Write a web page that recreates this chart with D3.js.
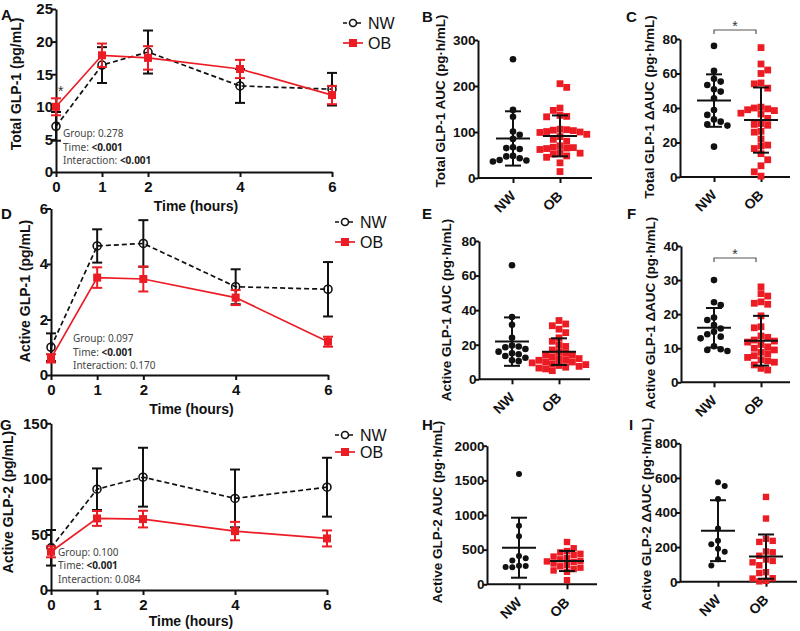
<!DOCTYPE html>
<html><head><meta charset="utf-8">
<script src="https://cdn.jsdelivr.net/npm/d3@7"></script>
<style>body{margin:0;background:#fff}</style>
</head><body><svg id="c" width="800" height="631"></svg>
<script>
// ---------- DATA ----------
const times = [0, 1, 2, 4, 6];
const groups = ["NW", "OB"];
const timeTitle = "Time (hours)";

// Panel A: Total GLP-1 (mean, SEM)
const aNW = [7.0, 16.4, 18.4, 13.2, 12.7];
const aNWerr = [2.2, 2.75, 3.3, 2.6, 2.5];
const aOB = [10.0, 17.9, 17.5, 15.8, 11.8];
const aOBerr = [1.3, 1.8, 1.8, 1.4, 1.4];
const aTicks = [0, 5, 10, 15, 20, 25];
const aStats = [["Group: ", "0.278", false], ["Time: ", "<0.001", true], ["Interaction: ", "<0.001", true]];

// Panel D: Active GLP-1
const dNW = [1.0, 4.65, 4.74, 3.18, 3.09];
const dNWerr = [0.5, 0.6, 0.84, 0.63, 0.98];
const dOB = [0.6, 3.51, 3.46, 2.79, 1.2];
const dOBerr = [0.15, 0.37, 0.45, 0.27, 0.18];
const dTicks = [0, 2, 4, 6];
const dStats = [["Group: ", "0.097", false], ["Time: ", "<0.001", true], ["Interaction: ", "0.170", false]];

// Panel G: Active GLP-2
const gNW = [38, 90.7, 101.5, 82.4, 92.5];
const gNWerr = [16, 18.7, 26.5, 26, 26.5];
const gOB = [34.4, 64.4, 63.8, 53, 46.4];
const gOBerr = [5, 6.7, 7.5, 8.3, 7.2];
const gTicks = [0, 50, 100, 150];
const gStats = [["Group: ", "0.100", false], ["Time: ", "<0.001", true], ["Interaction: ", "0.084", false]];

// Panel B: Total GLP-1 AUC
const bNW = [258, 148, 133, 101, 94, 85, 67, 65, 63, 48, 47, 43, 39, 38, 36];
const bOB = [205, 197, 152, 147, 136, 134, 133, 106, 105, 104, 103, 101, 100, 99, 95, 90, 84, 80, 70, 67, 66, 65, 64, 62, 55, 54, 52, 48, 45, 33, 14];
const bMean = [86, 91.5];
const bSD = [59, 44.5];
const bTicks = [0, 100, 200, 300];

// Panel C: Total GLP-1 ΔAUC
const cNW = [76, 61.5, 57, 55.3, 53.3, 50.8, 49.5, 45.6, 38.8, 36, 33.4, 32.1, 30.5, 29.8, 17.6];
const cOB = [75, 65.5, 62, 60, 54.5, 54, 51.5, 40.5, 40, 39.5, 39, 38.5, 37, 36.5, 34, 31, 30.5, 30, 26.5, 26, 22, 18.5, 18, 16.5, 13.5, 10, 6.5, 3, 0.5];
const cMean = [44.3, 33];
const cSD = [15.2, 18.9];
const cTicks = [0, 20, 40, 60, 80];

// Panel E: Active GLP-1 AUC
const eNW = [66, 36, 31.5, 24, 19.5, 19, 18.5, 17.5, 16, 15, 14.5, 13.5, 12.5, 11, 10.5];
const eOB = [34, 32, 31, 29, 27, 24, 22, 20, 19, 17, 16, 15, 14, 14, 13, 12, 12, 11, 11, 10, 10, 9.5, 9, 8.5, 8, 7.5, 7, 6.5, 6, 5];
const eMean = [21.8, 16];
const eSD = [14, 7.7];
const eTicks = [0, 20, 40, 60, 80];

// Panel F: Active GLP-1 ΔAUC
const fNW = [30, 23.5, 22.7, 19, 18.3, 16.8, 15.8, 14.8, 14.1, 13.4, 12.9, 10.6, 9.7, 9.5, 9.2];
const fOB = [28, 26, 25.3, 23.6, 23.2, 22.9, 19.5, 16.3, 16, 13.6, 13.2, 12.4, 12.1, 11.8, 11.1, 10.4, 10, 9.5, 8.8, 8.4, 7.8, 7.3, 6.6, 6.3, 5.9, 5.1, 4.1, 3.6];
const fMean = [16, 12.2];
const fSD = [5.8, 7.3];
const fTicks = [0, 10, 20, 30, 40];

// Panel H: Active GLP-2 AUC
const hNW = [1590, 845, 695, 410, 375, 345, 268, 265, 250, 245];
const hOB = [610, 520, 480, 460, 440, 420, 400, 380, 360, 340, 330, 320, 300, 280, 260, 240, 220, 200, 180, 60];
const hMean = [528, 336];
const hSD = [433, 145];
const hTicks = [0, 500, 1000, 1500, 2000];

// Panel I: Active GLP-2 ΔAUC
const iNW = [575, 553, 478, 308, 236, 216, 190, 173, 130, 93];
const iOB = [490, 365, 248, 236, 230, 175, 170, 150, 128, 120, 112, 95, 55, 50, 20, 18, 5, 2];
const iMean = [295, 145];
const iSD = [176, 128];
const iTicks = [0, 200, 400, 600, 800];

// ---------- DRAWING ----------
const RED = "#ec1c24", BLK = "#111";
const FONT = "'Liberation Sans', Arial, sans-serif";
const svg = d3.select("#c");
const fmt = d3.format("d");

function styleAxis(g, fs) {
  g.attr("font-family", FONT).attr("font-size", fs).attr("font-weight", "bold");
  g.selectAll("path.domain").attr("stroke", BLK).attr("stroke-width", 2);
  g.selectAll(".tick line").attr("stroke", BLK).attr("stroke-width", 2);
  g.selectAll(".tick text").attr("fill", BLK);
}

function panelLabel(t, x, y) {
  svg.append("text").attr("x", x).attr("y", y).text(t)
    .attr("font-family", FONT).attr("font-weight", "bold").attr("font-size", 15).attr("fill", BLK);
}

function yTitle(t, x, y, fs) {
  svg.append("text").attr("transform", `translate(${x},${y}) rotate(-90)`)
    .attr("text-anchor", "middle").text(t)
    .attr("font-family", FONT).attr("font-weight", "bold").attr("font-size", fs).attr("fill", BLK);
}

function linePanel(c) {
  const x = d3.scaleLinear().domain([0, 6]).range([c.x0, c.x1]);
  const y = d3.scaleLinear().domain([0, c.ymax]).range([c.y0, c.y1]);
  const gx = svg.append("g").attr("transform", `translate(0,${c.y0})`)
    .call(d3.axisBottom(x).tickValues(times).tickFormat(fmt).tickSize(5).tickPadding(4).tickSizeOuter(0));
  styleAxis(gx, 15);
  const gy = svg.append("g").attr("transform", `translate(${c.x0},0)`)
    .call(d3.axisLeft(y).tickValues(c.ticks).tickFormat(fmt).tickSize(4).tickPadding(-1).tickSizeOuter(0));
  styleAxis(gy, 15);

  svg.append("text").attr("x", (c.x0 + c.x1) / 2 + 2).attr("y", c.xtY).attr("text-anchor", "middle")
    .text(timeTitle).attr("font-family", FONT).attr("font-weight", "bold").attr("font-size", 14).attr("fill", BLK);
  yTitle(c.ytitle, c.ytx, c.yty, 14);
  panelLabel(c.label, c.lx, c.ly);

  const series = [
    { m: c.nw, e: c.nwe, col: BLK, dash: "5,3", shape: "circle" },
    { m: c.ob, e: c.obe, col: RED, dash: null, shape: "square" }
  ];
  series.forEach(s => {
    const g = svg.append("g");
    const pts = times.map((t, i) => ({ t, m: s.m[i], e: s.e[i] }));
    pts.forEach(p => {
      g.append("line").attr("x1", x(p.t)).attr("x2", x(p.t)).attr("y1", y(p.m - p.e)).attr("y2", y(p.m + p.e))
        .attr("stroke", s.col).attr("stroke-width", 2);
      [p.m - p.e, p.m + p.e].forEach(v => g.append("line").attr("x1", x(p.t) - 5).attr("x2", x(p.t) + 5)
        .attr("y1", y(v)).attr("y2", y(v)).attr("stroke", s.col).attr("stroke-width", 2));
    });
    g.append("path").datum(pts).attr("d", d3.line().x(d => x(d.t)).y(d => y(d.m)))
      .attr("fill", "none").attr("stroke", s.col).attr("stroke-width", 1.7)
      .attr("stroke-dasharray", s.dash);
    pts.forEach(p => {
      if (s.shape === "circle") g.append("circle").attr("cx", x(p.t)).attr("cy", y(p.m)).attr("r", 4)
        .attr("fill", "none").attr("stroke", BLK).attr("stroke-width", 1.6);
      else g.append("rect").attr("x", x(p.t) - 4).attr("y", y(p.m) - 4).attr("width", 8).attr("height", 8).attr("fill", RED);
    });
  });

  const lg = svg.append("g");
  [["NW", 0], ["OB", 1]].forEach(([name, i]) => {
    const ly = c.legY + i * c.legGap;
    lg.append("line").attr("x1", c.legX).attr("x2", c.legX + 20).attr("y1", ly).attr("y2", ly)
      .attr("stroke", i ? RED : BLK).attr("stroke-width", 1.7).attr("stroke-dasharray", i ? null : "4,3");
    if (i) lg.append("rect").attr("x", c.legX + 6).attr("y", ly - 4).attr("width", 8).attr("height", 8).attr("fill", RED);
    else lg.append("circle").attr("cx", c.legX + 10).attr("cy", ly).attr("r", 3.5).attr("fill", "#fff").attr("stroke", BLK).attr("stroke-width", 1.6);
    lg.append("text").attr("x", c.legX + 25).attr("y", ly + 6).text(name)
      .attr("font-family", FONT).attr("font-size", 16).attr("fill", BLK);
  });

  c.stats.forEach((s, i) => {
    const t = svg.append("text").attr("x", c.statX).attr("y", c.statY + i * 13.5)
      .attr("font-family", "'Noto Sans', 'Open Sans', sans-serif").attr("font-size", 10).attr("fill", "#444");
    t.append("tspan").text(s[0]);
    t.append("tspan").text(s[1]).attr("font-weight", s[2] ? "bold" : "normal").attr("fill", s[2] ? "#222" : "#444");
  });

  if (c.star) {
    svg.append("text").attr("x", x(0) + 2).attr("y", y(c.ob[0] + c.obe[0]) - 2).text("*")
      .attr("font-family", FONT).attr("font-size", 14).attr("fill", "#333");
  }
}

function swarm(vals, y, cx, step, d) {
  const pts = vals.map(v => ({ v, py: y(v) })).sort((a, b) => a.py - b.py);
  const placed = [];
  let flip = 1;
  pts.forEach(p => {
    for (let k = 0; k < 60; k++) {
      const offs = k === 0 ? [0] : [flip * k * step, -flip * k * step];
      let ok = null;
      for (const o of offs) {
        if (placed.every(q => Math.abs(q.px - (cx + o)) >= d - 0.01 || Math.abs(q.py - p.py) >= d - 0.01)) { ok = o; break; }
      }
      if (ok !== null) { p.px = cx + ok; placed.push(p); if (ok !== 0) flip = -flip; break; }
    }
  });
  return placed;
}

function scatterPanel(c) {
  const xs = d3.scalePoint().domain(groups).range([c.xNW, c.xOB]);
  const y = d3.scaleLinear().domain([0, c.ymax]).range([c.y0, c.y1]);
  svg.append("line").attr("x1", c.axisX).attr("x2", c.xEnd).attr("y1", c.y0).attr("y2", c.y0)
    .attr("stroke", BLK).attr("stroke-width", 2);
  const gx = svg.append("g").attr("transform", `translate(0,${c.y0})`)
    .call(d3.axisBottom(xs).tickSize(5).tickSizeOuter(0));
  styleAxis(gx, 14);
  gx.select("path.domain").remove();
  gx.selectAll(".tick text").attr("y", 0).attr("dy", 0).attr("text-anchor", "end")
    .attr("transform", "translate(3,19) rotate(-45)");
  const gy = svg.append("g").attr("transform", `translate(${c.axisX},0)`)
    .call(d3.axisLeft(y).tickValues(c.ticks).tickFormat(fmt).tickSize(4).tickPadding(-1.5).tickSizeOuter(0));
  styleAxis(gy, 13.5);

  yTitle(c.ytitle, c.ytx, c.yty, 13.5);
  panelLabel(c.label, c.lx, c.ly);

  const r = c.r || 3.3, sq = c.sq || 6.8;
  const nwPts = swarm(c.nw, y, xs("NW"), 6.7, 6.6);
  const obPts = swarm(c.ob, y, xs("OB"), 6.7, 6.6);
  svg.append("g").selectAll("circle").data(nwPts).join("circle")
    .attr("cx", d => d.px).attr("cy", d => d.py).attr("r", r).attr("fill", BLK);
  svg.append("g").selectAll("rect").data(obPts).join("rect")
    .attr("x", d => d.px - sq / 2).attr("y", d => d.py - sq / 2).attr("width", sq).attr("height", sq).attr("fill", RED);

  groups.forEach((gname, i) => {
    const cx = xs(gname), m = c.mean[i], s = c.sd[i];
    const lo = Math.max(0, m - s);
    const g = svg.append("g").attr("stroke", BLK).attr("stroke-width", 2);
    g.append("line").attr("x1", cx).attr("x2", cx).attr("y1", y(lo)).attr("y2", y(m + s));
    g.append("line").attr("x1", cx - 17).attr("x2", cx + 17).attr("y1", y(m)).attr("y2", y(m));
    g.append("line").attr("x1", cx - 8).attr("x2", cx + 8).attr("y1", y(m + s)).attr("y2", y(m + s));
    g.append("line").attr("x1", cx - 8).attr("x2", cx + 8).attr("y1", y(lo)).attr("y2", y(lo));
  });

  if (c.bracketY) {
    const x1 = xs("NW"), x2 = xs("OB") - 5, by = c.bracketY;
    svg.append("path").attr("d", `M${x1},${by + 4}V${by}H${x2}V${by + 4}`)
      .attr("fill", "none").attr("stroke", "#555").attr("stroke-width", 1.2);
    svg.append("text").attr("x", (x1 + x2) / 2).attr("y", by + 1).attr("text-anchor", "middle").text("*")
      .attr("font-family", FONT).attr("font-size", 14).attr("fill", "#333");
  }
}

linePanel({ x0: 56, x1: 332, y0: 172, y1: 9, ymax: 25, ticks: aTicks, nw: aNW, nwe: aNWerr, ob: aOB, obe: aOBerr,
  stats: aStats, statX: 63, statY: 137, legX: 343, legY: 23, legGap: 20, ytitle: "Total GLP-1 (pg/mL)", ytx: 21, yty: 84,
  xtY: 211, label: "A", lx: 1, ly: 20, star: true });
linePanel({ x0: 51, x1: 328, y0: 375, y1: 208.5, ymax: 6, ticks: dTicks, nw: dNW, nwe: dNWerr, ob: dOB, obe: dOBerr,
  stats: dStats, statX: 73, statY: 342, legX: 335, legY: 222, legGap: 20, ytitle: "Active GLP-1 (pg/mL)", ytx: 30, yty: 291,
  xtY: 414, label: "D", lx: 1, ly: 219 });
linePanel({ x0: 51, x1: 327, y0: 590, y1: 423.3, ymax: 150, ticks: gTicks, nw: gNW, nwe: gNWerr, ob: gOB, obe: gOBerr,
  stats: gStats, statX: 58, statY: 555.5, legX: 335, legY: 435, legGap: 17, ytitle: "Active GLP-2 (pg/mL)", ytx: 13, yty: 502,
  xtY: 626, label: "G", lx: 0, ly: 430 });

scatterPanel({ axisX: 478, xEnd: 592, xNW: 513, xOB: 560, y0: 178, y1: 40, ymax: 300, ticks: bTicks, nw: bNW, ob: bOB,
  mean: bMean, sd: bSD, ytitle: "Total GLP-1 AUC (pg·h/mL)", ytx: 445, yty: 101, label: "B", lx: 422, ly: 22 });
scatterPanel({ axisX: 680, xEnd: 790, xNW: 714, xOB: 761, y0: 177, y1: 39, ymax: 80, ticks: cTicks, nw: cNW, ob: cOB,
  mean: cMean, sd: cSD, ytitle: "Total GLP-1 ΔAUC (pg·h/mL)", ytx: 654, yty: 107, label: "C", lx: 626, ly: 22, bracketY: 30 });
scatterPanel({ axisX: 479, xEnd: 590, xNW: 512, xOB: 559, y0: 379.3, y1: 241, ymax: 80, ticks: eTicks, nw: eNW, ob: eOB,
  mean: eMean, sd: eSD, ytitle: "Active GLP-1 AUC (pg·h/mL)", ytx: 451, yty: 310, label: "E", lx: 422, ly: 219 });
scatterPanel({ axisX: 681, xEnd: 790, xNW: 714, xOB: 761, y0: 382.3, y1: 246, ymax: 40, ticks: fTicks, nw: fNW, ob: fOB,
  mean: fMean, sd: fSD, ytitle: "Active GLP-1 ΔAUC (pg·h/mL)", ytx: 655, yty: 313, label: "F", lx: 627, ly: 219, bracketY: 258 });
scatterPanel({ axisX: 487, xEnd: 597, xNW: 519, xOB: 567, y0: 584.3, y1: 445.7, ymax: 2000, ticks: hTicks, nw: hNW, ob: hOB,
  mean: hMean, sd: hSD, ytitle: "Active GLP-2 AUC (pg·h/mL)", ytx: 442, yty: 512, label: "H", lx: 422, ly: 430, r: 3, sq: 6.4 });
scatterPanel({ axisX: 680, xEnd: 797, xNW: 718, xOB: 766, y0: 581.7, y1: 443.3, ymax: 800, ticks: iTicks, nw: iNW, ob: iOB,
  mean: iMean, sd: iSD, ytitle: "Active GLP-2 ΔAUC (pg·h/mL)", ytx: 651, yty: 514, label: "I", lx: 629, ly: 430, r: 3, sq: 6.4 });
</script>
</body></html>
